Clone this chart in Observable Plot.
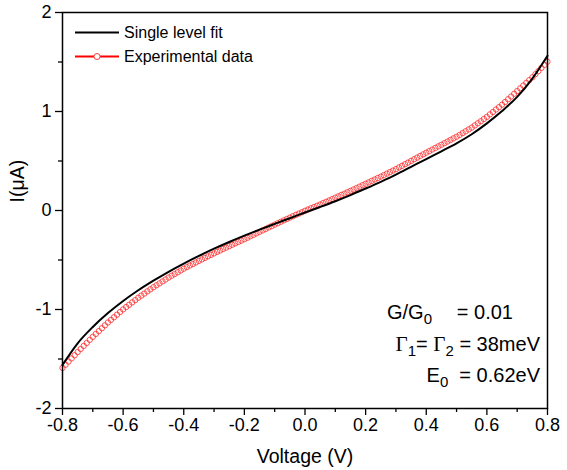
<!DOCTYPE html>
<html><head><meta charset="utf-8">
<script src="https://cdn.jsdelivr.net/npm/d3@7"></script>
<script src="https://cdn.jsdelivr.net/npm/@observablehq/plot@0.6"></script>
<style>
body{margin:0;background:#fff}
#chart svg{font-family:"Liberation Sans",Arial,sans-serif}
</style>
</head><body><div id="chart"></div>
<script>
// Single level fit (black line)
const fitV = [-0.80,-0.75,-0.70,-0.65,-0.60,-0.55,-0.50,-0.45,-0.40,-0.35,-0.30,-0.25,-0.20,-0.15,-0.10,-0.05,0.00,
  0.05,0.10,0.15,0.20,0.25,0.30,0.35,0.40,0.45,0.50,0.55,0.60,0.65,0.70,0.75,0.80];
const fitI = [-1.56,-1.341,-1.176,-1.036,-0.914,-0.806,-0.709,-0.619,-0.536,-0.459,-0.386,-0.318,-0.254,-0.193,-0.135,-0.078,-0.02,
  0.036,0.094,0.156,0.222,0.29,0.362,0.441,0.52,0.598,0.678,0.77,0.88,1.005,1.148,1.333,1.563];

// Experimental data (red open circles), V from -0.80 to 0.80 in 0.01 V steps
const expVStart = -0.80, expVStep = 0.01;
const expI = [
  -1.590,
  -1.558,-1.526,-1.494,-1.462,-1.430,
  -1.399,-1.368,-1.338,-1.307,-1.276,
  -1.247,-1.218,-1.189,-1.160,-1.131,
  -1.105,-1.078,-1.052,-1.025,-0.999,
  -0.975,-0.952,-0.928,-0.905,-0.881,
  -0.860,-0.839,-0.817,-0.796,-0.775,
  -0.755,-0.736,-0.716,-0.697,-0.677,
  -0.659,-0.642,-0.624,-0.606,-0.588,
  -0.572,-0.556,-0.541,-0.525,-0.509,
  -0.494,-0.479,-0.463,-0.448,-0.433,
  -0.418,-0.404,-0.389,-0.375,-0.360,
  -0.346,-0.332,-0.318,-0.304,-0.290,
  -0.275,-0.260,-0.246,-0.231,-0.216,
  -0.201,-0.187,-0.172,-0.158,-0.143,
  -0.129,-0.114,-0.100,-0.086,-0.072,
  -0.058,-0.044,-0.031,-0.017,-0.003,
  0.010,0.023,0.035,0.048,0.061,
  0.075,0.088,0.102,0.115,0.129,
  0.143,0.157,0.170,0.184,0.198,
  0.212,0.227,0.241,0.256,0.270,
  0.284,0.299,0.313,0.328,0.342,
  0.357,0.372,0.388,0.403,0.418,
  0.435,0.451,0.468,0.484,0.501,
  0.518,0.534,0.551,0.567,0.584,
  0.600,0.616,0.632,0.648,0.664,
  0.680,0.696,0.713,0.729,0.745,
  0.763,0.782,0.800,0.819,0.837,
  0.859,0.881,0.902,0.924,0.946,
  0.971,0.995,1.020,1.044,1.069,
  1.096,1.124,1.151,1.179,1.206,
  1.234,1.262,1.289,1.317,1.345,
  1.377,1.408,1.440,1.471,1.503
];

const xTicks = [-0.8,-0.6,-0.4,-0.2,0.0,0.2,0.4,0.6,0.8];
const xMinor = [-0.7,-0.5,-0.3,-0.1,0.1,0.3,0.5,0.7];
const yTicks = [-2,-1,0,1,2];
const yMinor = [-1.5,-0.5,0.5,1.5];

const legendLabels = ["Single level fit","Experimental data"];
const xLabel = "Voltage (V)";
const yLabel = "I(\u03BCA)";

const fit = fitV.map((v,i)=>({v, i:fitI[i]}));
const exp = expI.map((c,k)=>({v: +(expVStart + k*expVStep).toFixed(2), i:c}));

const W=567, H=470, mL=62, mR=20, mT=12, mB=62;
const FONT = "Liberation Sans, Arial, sans-serif";
const SERIF = "Liberation Serif, Times New Roman, serif";

const plot = Plot.plot({
  width:W, height:H, marginLeft:mL, marginRight:mR, marginTop:mT, marginBottom:mB,
  style:{fontFamily:FONT, background:"#fff", color:"#000", overflow:"visible"},
  x:{domain:[-0.8,0.8]},
  y:{domain:[-2,2]},
  marks:[
    Plot.axisX(xMinor,{tickSize:4, text:null, label:null, strokeWidth:1.3}),
    Plot.axisX(xTicks,{tickSize:7, tickPadding:3, tickFormat:d=>d.toFixed(1), fontSize:18, label:null, strokeWidth:1.3}),
    Plot.axisY(yMinor,{tickSize:4, text:null, label:null, strokeWidth:1.3}),
    Plot.axisY(yTicks,{tickSize:7, tickPadding:4, tickFormat:d=>String(d), fontSize:18, label:null, strokeWidth:1.3}),
    Plot.dot(exp,{x:"v", y:"i", r:2.7, stroke:"#ff2020", strokeWidth:0.75, fill:"none"}),
    Plot.line(fit,{x:"v", y:"i", stroke:"#000", strokeWidth:2, curve:"monotone-x"}),
    Plot.frame({stroke:"#000", strokeWidth:1.5}),
    Plot.text([xLabel],{frameAnchor:"bottom", dy:48, text:d=>d, fontSize:19.5, lineAnchor:"middle"}),
    Plot.text([yLabel],{frameAnchor:"left", dx:-45, dy:-8, rotate:-90, text:d=>d, fontSize:19.5, lineAnchor:"middle"})
  ]
});
document.getElementById("chart").appendChild(plot);

// Legend and annotation (drawn in the same SVG)
const svg = d3.select(plot);
const lg = svg.append("g").attr("font-family",FONT).attr("font-size",16).attr("text-anchor","start").attr("fill","#000");
const lx0 = mL+13, lx1 = mL+57, ly = [mT+20.5, mT+44.5];
lg.append("line").attr("x1",lx0).attr("x2",lx1).attr("y1",ly[0]).attr("y2",ly[0]).attr("stroke","#000").attr("stroke-width",2);
lg.append("text").attr("x",lx1+5).attr("y",ly[0]+5.5).text(legendLabels[0]);
lg.append("line").attr("x1",lx0).attr("x2",lx1).attr("y1",ly[1]).attr("y2",ly[1]).attr("stroke","#ff0000").attr("stroke-width",2);
lg.append("circle").attr("cx",(lx0+lx1)/2).attr("cy",ly[1]).attr("r",3).attr("fill","#fff").attr("stroke","#ff4040").attr("stroke-width",1);
lg.append("text").attr("x",lx1+5).attr("y",ly[1]+5.5).text(legendLabels[1]);

const AF = 20, SF = 15, SD = 5;
const an = svg.append("g").attr("font-family",FONT).attr("font-size",AF).attr("fill","#000").attr("text-anchor","start");
const right = W-mR;
// line 1
const t1 = an.append("text").attr("x",387).attr("y",319);
t1.append("tspan").text("G/G");
t1.append("tspan").attr("font-size",SF).attr("dy",SD).text("0");
an.append("text").attr("x",513).attr("y",319).attr("text-anchor","end").text("= 0.01");
// line 2
const t2 = an.append("text").attr("x",right-7).attr("y",351).attr("text-anchor","end");
t2.append("tspan").attr("font-family",SERIF).attr("font-size",AF+1).text("\u0393");
t2.append("tspan").attr("font-size",SF).attr("dy",SD).text("1");
t2.append("tspan").attr("dy",-SD).text("= ");
t2.append("tspan").attr("font-family",SERIF).attr("font-size",AF+1).text("\u0393");
t2.append("tspan").attr("font-size",SF).attr("dy",SD).text("2");
t2.append("tspan").attr("dy",-SD).text(" = 38meV");
// line 3
const t3 = an.append("text").attr("x",right-7).attr("y",382).attr("text-anchor","end");
t3.append("tspan").text("E");
t3.append("tspan").attr("font-size",SF).attr("dy",SD).text("0");
t3.append("tspan").attr("dy",-SD).text("\u00A0 = 0.62eV");
</script>
</body></html>
